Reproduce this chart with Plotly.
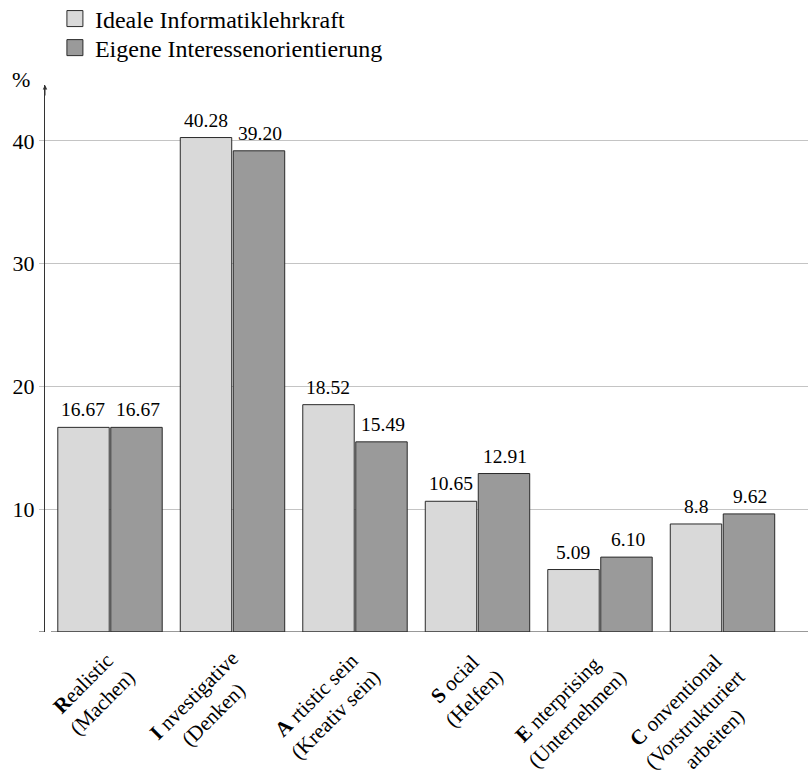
import plotly.graph_objects as go

# ---- data ----
categories = ["R", "I", "A", "S", "E", "C"]
label_initials = ["R", "I", "A", "S", "E", "C"]
label_rest = ["ealistic", " nvestigative", " rtistic sein", " ocial", " nterprising", " onventional"]
label_sub = [["(Machen)"], ["(Denken)"], ["(Kreativ sein)"], ["(Helfen)"], ["(Unternehmen)"],
             ["(Vorstrukturiert", "arbeiten)"]]
series_names = ["Ideale Informatiklehrkraft", "Eigene Interessenorientierung"]
ideal_values = [16.67, 40.28, 18.52, 10.65, 5.09, 8.8]
ideal_text = ["16.67", "40.28", "18.52", "10.65", "5.09", "8.8"]
own_values = [16.67, 39.20, 15.49, 12.91, 6.10, 9.62]
own_text = ["16.67", "39.20", "15.49", "12.91", "6.10", "9.62"]
y_ticks = [10, 20, 30, 40]

FONT = "'Liberation Serif', 'DejaVu Serif', serif"
LIGHT = "#d9d9d9"
DARK = "#9a9a9a"
EDGE = "#2a2a2a"
YMAX = 44.56

fig = go.Figure()
series = [(ideal_values, ideal_text, LIGHT, -27), (own_values, own_text, DARK, 27.5)]
for vals, txt, col, _ in series:
    fig.add_trace(go.Bar(
        x=categories, y=vals,
        marker=dict(color=col, line=dict(color=EDGE, width=1)),
        showlegend=False, hoverinfo="skip",
    ))
legend_ids = ["legend", "legend2"]
for name, col, lid in zip(series_names, [LIGHT, DARK], legend_ids):
    fig.add_trace(go.Scatter(
        x=[None], y=[None], mode="markers", name=name, legend=lid,
        marker=dict(symbol="square", size=16, color=col, line=dict(color=EDGE, width=1)),
    ))

annotations = []
# value labels above each bar
for vals, txt, col, dx in series:
    for cat, v, t in zip(categories, vals, txt):
        annotations.append(dict(
            x=cat, y=v, xref="x", yref="y", text=t, showarrow=False,
            xanchor="center", yanchor="bottom", xshift=dx, yshift=5,
            font=dict(family=FONT, size=19.5, color="black"),
        ))
# rotated category labels
for cat, ini, rest, sub in zip(categories, label_initials, label_rest, label_sub):
    lines = ["<b>" + ini + "</b>" + rest] + sub
    n = len(lines)
    annotations.append(dict(
        x=cat, y=0, xref="x", yref="y", text="<br>".join(lines),
        showarrow=False, textangle=-45, xanchor="right", yanchor="top",
        align="center", xshift=n * 16.5, yshift=-11,
        font=dict(family=FONT, size=21, color="black"),
    ))
annotations.append(dict(
    x=0, y=YMAX, xref="paper", yref="y", text="%", showarrow=False,
    xanchor="center", yanchor="middle", xshift=-24, yshift=6,
    font=dict(family=FONT, size=22, color="black"),
))
annotations.append(dict(
    x=0, y=YMAX, xref="paper", yref="y", text="", showarrow=True,
    ax=0, ay=12, axref="pixel", ayref="pixel",
    arrowhead=2, arrowsize=0.9, arrowwidth=1, arrowcolor="#333333",
))

shapes = [
    dict(type="line", xref="paper", yref="y", xsizemode="pixel", xanchor=0,
         x0=6, x1=780, y0=0, y1=0, line=dict(color="#333333", width=1)),
    dict(type="line", xref="paper", yref="y", xsizemode="pixel", xanchor=0,
         ysizemode="pixel", yanchor=0, x0=6, x1=6, y0=0, y1=-5,
         line=dict(color="#333333", width=1)),
    dict(type="line", xref="paper", yref="y", xsizemode="pixel", xanchor=0,
         x0=-6, x1=0, y0=0, y1=0, line=dict(color="#333333", width=1)),
]

legend_style = dict(x=0.013, xanchor="left", yanchor="middle",
                    font=dict(family=FONT, size=24, color="black"),
                    bgcolor="rgba(0,0,0,0)", itemsizing="trace")

fig.update_layout(
    width=808, height=776,
    margin=dict(l=45, r=0, t=85, b=144, pad=0, autoexpand=False),
    plot_bgcolor="white", paper_bgcolor="white",
    barmode="group", bargap=0.135, bargroupgap=0.029,
    font=dict(family=FONT, color="black"),
    showlegend=True,
    legend=dict(y=1.1207, **legend_style),
    legend2=dict(y=1.0676, **legend_style),
    xaxis=dict(range=[-0.5306, 5.698], showticklabels=False, ticks="",
               showgrid=False, showline=False, zeroline=False, fixedrange=True),
    yaxis=dict(range=[0, YMAX], tickvals=y_ticks, ticks="outside", ticklen=5,
               tickcolor="#c4c4c4", showgrid=True, gridcolor="#c4c4c4", gridwidth=1,
               showline=True, linecolor="#333333", linewidth=1, zeroline=False,
               tickfont=dict(family=FONT, size=22, color="black")),
    annotations=annotations, shapes=shapes,
)

fig.write_html("out.html")
